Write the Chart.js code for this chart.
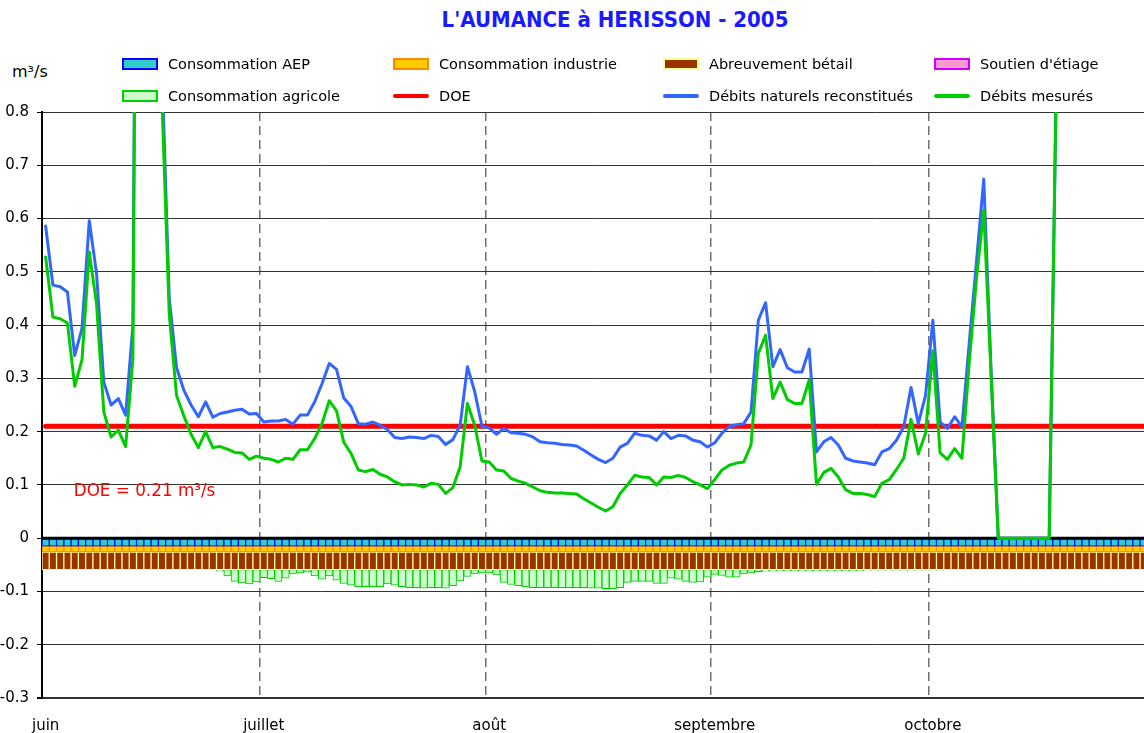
<!DOCTYPE html>
<html lang="fr">
<head>
<meta charset="UTF-8">
<title>L'AUMANCE à HERISSON - 2005</title>
<script src="https://cdn.jsdelivr.net/npm/chart.js"></script>
<style>
  html, body { margin: 0; padding: 0; background: #fff; overflow: hidden; }
  body { font-family: 'DejaVu Sans', sans-serif; color: #000; }
  #wrap { position: relative; width: 1170px; height: 733px; }
  #chart { position: absolute; left: 0; top: 0; }
  .title { position: absolute; top: 7px; left: 615px; transform: translateX(-50%);
           font-family: 'DejaVu Sans Condensed', 'DejaVu Sans', sans-serif;
           color: #1a1aff; font-weight: bold; font-size: 22px; white-space: nowrap; }
  .unit { position: absolute; left: 12px; top: 62px; font-size: 16px; }
  .leg { position: absolute; height: 20px; display: flex; align-items: center;
         font-size: 14.5px; white-space: nowrap; }
  .leg .box { width: 36px; height: 12px; box-sizing: border-box; border: 2px solid; margin-right: 10px; }
  .leg .line { width: 36px; height: 4px; border-radius: 2px; margin-right: 10px; }
</style>
</head>
<body>
<div id="wrap">
  <div class="title">L'AUMANCE à HERISSON - 2005</div>
  <div class="unit">m³/s</div>
  <canvas id="chart" width="1170" height="733"></canvas>
</div>

<script>
// catégories : un point par jour, de juin à octobre
const months = ['juin', 'juillet', 'août', 'septembre', 'octobre'];
const monthLengths = [30, 31, 31, 30, 31];

// consommations (m3/s, négatives sous l'axe)
const consoAEP = [
  -0.015,-0.015,-0.015,-0.015,-0.015,-0.015,-0.015,-0.015,-0.015,-0.015,-0.015,-0.015,-0.015,-0.015,-0.015,-0.015,-0.015,-0.015,-0.015,-0.015,-0.015,-0.015,-0.015,-0.015,-0.015,-0.015,-0.015,-0.015,-0.015,-0.015,
  -0.015,-0.015,-0.015,-0.015,-0.015,-0.015,-0.015,-0.015,-0.015,-0.015,-0.015,-0.015,-0.015,-0.015,-0.015,-0.015,-0.015,-0.015,-0.015,-0.015,-0.015,-0.015,-0.015,-0.015,-0.015,-0.015,-0.015,-0.015,-0.015,-0.015,-0.015,
  -0.015,-0.015,-0.015,-0.015,-0.015,-0.015,-0.015,-0.015,-0.015,-0.015,-0.015,-0.015,-0.015,-0.015,-0.015,-0.015,-0.015,-0.015,-0.015,-0.015,-0.015,-0.015,-0.015,-0.015,-0.015,-0.015,-0.015,-0.015,-0.015,-0.015,-0.015,
  -0.015,-0.015,-0.015,-0.015,-0.015,-0.015,-0.015,-0.015,-0.015,-0.015,-0.015,-0.015,-0.015,-0.015,-0.015,-0.015,-0.015,-0.015,-0.015,-0.015,-0.015,-0.015,-0.015,-0.015,-0.015,-0.015,-0.015,-0.015,-0.015,-0.015,
  -0.015,-0.015,-0.015,-0.015,-0.015,-0.015,-0.015,-0.015,-0.015,-0.015,-0.015,-0.015,-0.015,-0.015,-0.015,-0.015,-0.015,-0.015,-0.015,-0.015,-0.015,-0.015,-0.015,-0.015,-0.015,-0.015,-0.015,-0.015,-0.015,-0.015,-0.015
];
const consoIndustrie = [
  -0.011,-0.011,-0.011,-0.011,-0.011,-0.011,-0.011,-0.011,-0.011,-0.011,-0.011,-0.011,-0.011,-0.011,-0.011,-0.011,-0.011,-0.011,-0.011,-0.011,-0.011,-0.011,-0.011,-0.011,-0.011,-0.011,-0.011,-0.011,-0.011,-0.011,
  -0.011,-0.011,-0.011,-0.011,-0.011,-0.011,-0.011,-0.011,-0.011,-0.011,-0.011,-0.011,-0.011,-0.011,-0.011,-0.011,-0.011,-0.011,-0.011,-0.011,-0.011,-0.011,-0.011,-0.011,-0.011,-0.011,-0.011,-0.011,-0.011,-0.011,-0.011,
  -0.011,-0.011,-0.011,-0.011,-0.011,-0.011,-0.011,-0.011,-0.011,-0.011,-0.011,-0.011,-0.011,-0.011,-0.011,-0.011,-0.011,-0.011,-0.011,-0.011,-0.011,-0.011,-0.011,-0.011,-0.011,-0.011,-0.011,-0.011,-0.011,-0.011,-0.011,
  -0.011,-0.011,-0.011,-0.011,-0.011,-0.011,-0.011,-0.011,-0.011,-0.011,-0.011,-0.011,-0.011,-0.011,-0.011,-0.011,-0.011,-0.011,-0.011,-0.011,-0.011,-0.011,-0.011,-0.011,-0.011,-0.011,-0.011,-0.011,-0.011,-0.011,
  -0.011,-0.011,-0.011,-0.011,-0.011,-0.011,-0.011,-0.011,-0.011,-0.011,-0.011,-0.011,-0.011,-0.011,-0.011,-0.011,-0.011,-0.011,-0.011,-0.011,-0.011,-0.011,-0.011,-0.011,-0.011,-0.011,-0.011,-0.011,-0.011,-0.011,-0.011
];
const abreuvementBetail = [
  -0.033,-0.033,-0.033,-0.033,-0.033,-0.033,-0.033,-0.033,-0.033,-0.033,-0.033,-0.033,-0.033,-0.033,-0.033,-0.033,-0.033,-0.033,-0.033,-0.033,-0.033,-0.033,-0.033,-0.033,-0.033,-0.033,-0.033,-0.033,-0.033,-0.033,
  -0.033,-0.033,-0.033,-0.033,-0.033,-0.033,-0.033,-0.033,-0.033,-0.033,-0.033,-0.033,-0.033,-0.033,-0.033,-0.033,-0.033,-0.033,-0.033,-0.033,-0.033,-0.033,-0.033,-0.033,-0.033,-0.033,-0.033,-0.033,-0.033,-0.033,-0.033,
  -0.033,-0.033,-0.033,-0.033,-0.033,-0.033,-0.033,-0.033,-0.033,-0.033,-0.033,-0.033,-0.033,-0.033,-0.033,-0.033,-0.033,-0.033,-0.033,-0.033,-0.033,-0.033,-0.033,-0.033,-0.033,-0.033,-0.033,-0.033,-0.033,-0.033,-0.033,
  -0.033,-0.033,-0.033,-0.033,-0.033,-0.033,-0.033,-0.033,-0.033,-0.033,-0.033,-0.033,-0.033,-0.033,-0.033,-0.033,-0.033,-0.033,-0.033,-0.033,-0.033,-0.033,-0.033,-0.033,-0.033,-0.033,-0.033,-0.033,-0.033,-0.033,
  -0.033,-0.033,-0.033,-0.033,-0.033,-0.033,-0.033,-0.033,-0.033,-0.033,-0.033,-0.033,-0.033,-0.033,-0.033,-0.033,-0.033,-0.033,-0.033,-0.033,-0.033,-0.033,-0.033,-0.033,-0.033,-0.033,-0.033,-0.033,-0.033,-0.033,-0.033
];
const consoAgricole = [
  0,0,0,0,0,0,0,0,0,0,0,0,0,0,0,0,0,0,0,0,0,0,0,0,-0.003,-0.012,-0.022,-0.025,-0.027,-0.023,
  -0.015,-0.017,-0.022,-0.016,-0.008,-0.006,-0.005,-0.012,-0.018,-0.012,-0.020,-0.026,-0.029,-0.032,-0.032,-0.032,-0.032,-0.027,-0.029,-0.032,-0.034,-0.034,-0.035,-0.034,-0.034,-0.035,-0.030,-0.021,-0.013,-0.008,-0.006,
  -0.006,-0.010,-0.024,-0.028,-0.030,-0.032,-0.034,-0.034,-0.034,-0.034,-0.034,-0.034,-0.034,-0.034,-0.035,-0.035,-0.036,-0.036,-0.034,-0.024,-0.022,-0.022,-0.022,-0.026,-0.026,-0.016,-0.018,-0.022,-0.024,-0.023,-0.014,
  -0.009,-0.011,-0.014,-0.014,-0.008,-0.006,-0.004,-0.003,-0.003,-0.002,-0.002,-0.002,-0.002,-0.002,-0.002,-0.002,-0.002,-0.002,-0.002,-0.002,-0.002,-0.001,-0.001,-0.001,-0.001,-0.001,-0.001,-0.001,-0.001,-0.001,
  -0.001,-0.001,0,0,0,0,0,0,0,0,0,0,0,0,0,0,0,0,0,0,0,0,0,0,0,0,0,0,0,0,0
];
const soutienEtiage = [];

// DOE et débits (m3/s)
const doe = [
  0.21,0.21,0.21,0.21,0.21,0.21,0.21,0.21,0.21,0.21,0.21,0.21,0.21,0.21,0.21,0.21,0.21,0.21,0.21,0.21,0.21,0.21,0.21,0.21,0.21,0.21,0.21,0.21,0.21,0.21,
  0.21,0.21,0.21,0.21,0.21,0.21,0.21,0.21,0.21,0.21,0.21,0.21,0.21,0.21,0.21,0.21,0.21,0.21,0.21,0.21,0.21,0.21,0.21,0.21,0.21,0.21,0.21,0.21,0.21,0.21,0.21,
  0.21,0.21,0.21,0.21,0.21,0.21,0.21,0.21,0.21,0.21,0.21,0.21,0.21,0.21,0.21,0.21,0.21,0.21,0.21,0.21,0.21,0.21,0.21,0.21,0.21,0.21,0.21,0.21,0.21,0.21,0.21,
  0.21,0.21,0.21,0.21,0.21,0.21,0.21,0.21,0.21,0.21,0.21,0.21,0.21,0.21,0.21,0.21,0.21,0.21,0.21,0.21,0.21,0.21,0.21,0.21,0.21,0.21,0.21,0.21,0.21,0.21,
  0.21,0.21,0.21,0.21,0.21,0.21,0.21,0.21,0.21,0.21,0.21,0.21,0.21,0.21,0.21,0.21,0.21,0.21,0.21,0.21,0.21,0.21,0.21,0.21,0.21,0.21,0.21,0.21,0.21,0.21,0.21
];
const debitsNaturels = [
  0.586,0.475,0.472,0.462,0.343,0.394,0.596,0.497,0.293,0.250,0.262,0.231,0.400,2.6,2.9,2.2,0.88,0.45,0.320,0.278,0.250,0.228,0.256,0.227,0.234,0.237,0.240,0.242,0.233,0.234,
  0.218,0.220,0.220,0.223,0.214,0.231,0.231,0.256,0.290,0.328,0.317,0.263,0.247,0.215,0.214,0.218,0.212,0.204,0.189,0.187,0.190,0.189,0.187,0.193,0.191,0.176,0.185,0.212,0.322,0.275,0.210,
  0.207,0.195,0.206,0.198,0.197,0.195,0.190,0.181,0.179,0.178,0.176,0.175,0.173,0.165,0.156,0.148,0.142,0.150,0.171,0.178,0.197,0.193,0.192,0.184,0.200,0.187,0.193,0.192,0.184,0.181,0.171,
  0.179,0.197,0.210,0.213,0.215,0.237,0.409,0.442,0.322,0.354,0.320,0.312,0.312,0.355,0.162,0.181,0.189,0.175,0.150,0.145,0.143,0.141,0.138,0.162,0.168,0.184,0.209,0.283,0.215,0.268,
  0.409,0.218,0.206,0.228,0.209,0.365,0.519,0.674,0.320,0,0,0,0,0,0,0,0,0.88,1.4,1.7,1.9,1.6,1.3,1.2,1.15,1.1,1.05,1.0,0.98,0.95,0.93
];
const debitsMesures = [
  0.528,0.415,0.412,0.404,0.285,0.335,0.537,0.440,0.237,0.190,0.203,0.172,0.338,2.5,2.8,2.1,0.82,0.42,0.268,0.230,0.195,0.170,0.200,0.170,0.172,0.167,0.161,0.160,0.148,0.154,
  0.150,0.148,0.143,0.150,0.148,0.166,0.166,0.187,0.215,0.258,0.239,0.180,0.159,0.128,0.125,0.129,0.120,0.115,0.106,0.100,0.101,0.100,0.096,0.103,0.101,0.084,0.095,0.134,0.253,0.212,0.145,
  0.143,0.128,0.126,0.112,0.107,0.103,0.096,0.089,0.086,0.085,0.085,0.084,0.083,0.074,0.066,0.058,0.051,0.059,0.084,0.100,0.118,0.115,0.114,0.100,0.115,0.114,0.118,0.114,0.106,0.100,0.093,
  0.110,0.128,0.137,0.141,0.143,0.175,0.347,0.381,0.262,0.293,0.260,0.253,0.253,0.297,0.101,0.123,0.131,0.115,0.091,0.084,0.084,0.082,0.078,0.103,0.110,0.129,0.150,0.223,0.158,0.197,
  0.352,0.160,0.148,0.168,0.150,0.329,0.487,0.616,0.308,0,0,0,0,0,0,0,0,0.88,1.4,1.7,1.9,1.6,1.3,1.2,1.15,1.1,1.05,1.0,0.98,0.95,0.93
];

const yMin = -0.3, yMax = 0.8, yStep = 0.1;
const doeLabelAt = { index: 4, value: 0.088 };

const FONT = "'DejaVu Sans', sans-serif";

// libellés journaliers + repère du premier jour de chaque mois
const days = [];
const monthStart = {};
months.forEach((m, k) => {
    monthStart[days.length] = m;
    for (let d = 1; d <= monthLengths[k]; d++) days.push(d + ' ' + m);
});

function barSet(label, data, fill, border, order) {
    return {
        type: 'bar', label, data, order, stack: 'conso',
        backgroundColor: fill, borderColor: border, borderWidth: 1, borderSkipped: false,
        barPercentage: 1, categoryPercentage: 1
    };
}
function lineSet(label, data, color, width, order) {
    return {
        type: 'line', label, data, order, stack: label,
        borderColor: color, backgroundColor: color, borderWidth: width,
        pointRadius: 0, tension: 0, borderJoinStyle: 'round', borderCapStyle: 'round'
    };
}

const datasets = [
    barSet('Consommation AEP', consoAEP, '#33cccc', '#0000ff', 10),
    barSet('Consommation industrie', consoIndustrie, '#ffcc00', '#ff8800', 11),
    barSet('Abreuvement bétail', abreuvementBetail, '#993300', '#ffff99', 12),
    barSet('Consommation agricole', consoAgricole, '#ccffcc', '#00cc00', 13),
    barSet("Soutien d'étiage", soutienEtiage, '#ff99cc', '#cc00ff', 14),
    lineSet('DOE', doe, '#ff0000', 5, 2),
    lineSet('Débits naturels reconstitués', debitsNaturels, '#3366ff', 3, 1),
    lineSet('Débits mesurés', debitsMesures, '#00cc00', 3, 0)
];

// trait du zéro + étiquette DOE
const overlay = {
    id: 'overlay',
    beforeDatasetDraw(chart, args) {
        if (chart.data.datasets[args.index].label !== 'DOE') return;
        const { ctx, chartArea, scales: { y } } = chart;
        const y0 = y.getPixelForValue(0);
        ctx.save();
        ctx.strokeStyle = '#000';
        ctx.lineWidth = 3;
        ctx.beginPath();
        ctx.moveTo(chartArea.left, y0);
        ctx.lineTo(chartArea.right, y0);
        ctx.stroke();
        ctx.restore();
    },
    afterDatasetsDraw(chart) {
        const { ctx, scales: { x, y } } = chart;
        ctx.save();
        ctx.fillStyle = '#ff0000';
        ctx.font = '16.8px ' + FONT;
        ctx.textBaseline = 'middle';
        ctx.fillText('DOE = ' + doe[0] + ' m³/s', x.getPixelForValue(doeLabelAt.index) - 1, y.getPixelForValue(doeLabelAt.value));
        ctx.restore();
    }
};

const chart = new Chart(document.getElementById('chart'), {
    type: 'bar',
    data: { labels: days, datasets },
    options: {
        responsive: false,
        devicePixelRatio: 1,
        animation: false,
        layout: { padding: { top: 112, right: 0, bottom: 0, left: 0 } },
        plugins: { legend: { display: false }, tooltip: { enabled: false } },
        scales: {
            x: {
                stacked: true,
                offset: true,
                afterFit: s => { s.height = 35; },
                border: { display: false, dash: [9, 5] },
                grid: {
                    offset: true,
                    drawTicks: false,
                    lineWidth: 1.5,
                    color: c => (c.type === 'tick' && c.index > 0 && monthStart[c.index]) ? '#707070' : 'rgba(0,0,0,0)'
                },
                ticks: {
                    autoSkip: false, maxRotation: 0, minRotation: 0, padding: 19,
                    color: '#000', font: { family: FONT, size: 15 },
                    callback: (v, i) => monthStart[i] || ''
                }
            },
            y: {
                stacked: true,
                min: yMin, max: yMax,
                afterFit: s => { s.width = 42; },
                border: { color: '#000', width: 2 },
                grid: {
                    color: '#333',
                    lineWidth: c => (c.tick && Math.abs(c.tick.value - yMin) < 1e-9) ? 2 : 1,
                    tickLength: 5, tickColor: '#000'
                },
                ticks: {
                    stepSize: yStep, padding: 8, color: '#000',
                    font: { family: FONT, size: 15 },
                    callback: v => String(Math.round(v * 10) / 10)
                }
            }
        }
    },
    plugins: [overlay]
});

// légende sur 2 lignes x 4 colonnes
const legendRows = [
    ['Consommation AEP', 'Consommation industrie', 'Abreuvement bétail', "Soutien d'étiage"],
    ['Consommation agricole', 'DOE', 'Débits naturels reconstitués', 'Débits mesurés']
];
const legendX = [122, 393, 663, 934];
const legendY = [64, 96];
const wrap = document.getElementById('wrap');
legendRows.forEach((row, r) => {
    row.forEach((label, c) => {
        const ds = datasets.find(d => d.label === label);
        const item = document.createElement('div');
        item.className = 'leg';
        item.style.left = legendX[c] + 'px';
        item.style.top = (legendY[r] - 10) + 'px';
        const mark = document.createElement('span');
        if (ds.type === 'bar') {
            mark.className = 'box';
            mark.style.background = ds.backgroundColor;
            mark.style.borderColor = ds.borderColor;
        } else {
            mark.className = 'line';
            mark.style.background = ds.borderColor;
        }
        item.appendChild(mark);
        item.appendChild(document.createTextNode(label));
        wrap.appendChild(item);
    });
});
</script>
</body>
</html>
